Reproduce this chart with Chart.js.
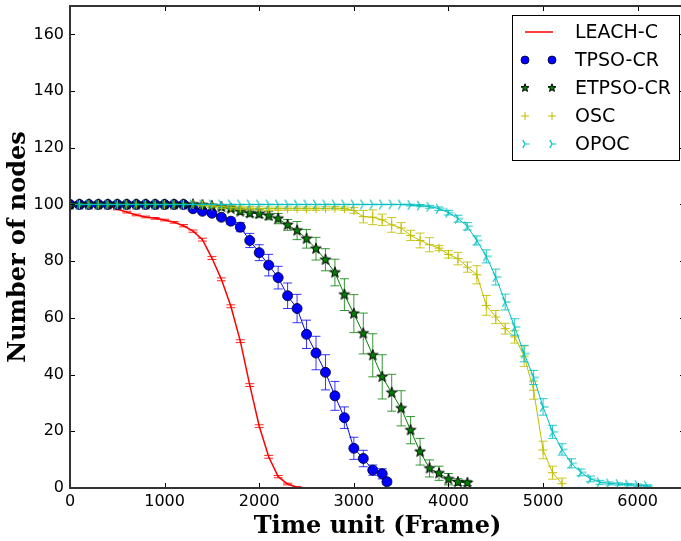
<!DOCTYPE html>
<html><head><meta charset="utf-8">
<script src="https://cdn.jsdelivr.net/npm/chart.js@4.4.1/dist/chart.umd.min.js"></script>
<style>
html,body{margin:0;padding:0;overflow:hidden;background:#fff;width:681px;height:541px}
#wrap{position:relative;width:691px;height:541px}
</style>
</head><body><div id="wrap"><canvas id="c" width="691" height="541"></canvas></div>
<script>
// ---------- data ----------
const frames = [0,100,200,300,400,500,600,700,800,900,1000,1100,1200,1300,1400,1500,1600,1700,1800,1900,2000,2100,2200,2300,2400,2500,2600,2700,2800,2900,3000,3100,3200,3300,3400,3500,3600,3700,3800,3900,4000,4100,4200,4300,4400,4500,4600,4700,4800,4900,5000,5100,5200,5300,5400,5500,5600,5700,5800,5900,6000,6100];
const tpsoFrames = [0,100,200,300,400,500,600,700,800,900,1000,1100,1200,1300,1400,1500,1600,1700,1800,1900,2000,2100,2200,2300,2400,2500,2600,2700,2800,2900,3000,3100,3200,3300,3350];

const leachValues = [100,100,100,100,99.6,98.4,97.3,96.3,95.6,95.1,94.5,93.7,92.5,90.6,87.6,81.1,73.6,64.1,51.8,36.3,21.8,11.0,4.0,1.4,0.3,0];
const leachErrors = [0,0,0,0,0,0.3,0.3,0.3,0.3,0.3,0.3,0.3,0.4,0.4,0.5,0.5,0.5,0.5,0.5,0.5,0.5,0.5,0.4,0.3,0.2,0];

const tpsoValues = [100,100,100,100,100,100,100,100,100,100,100,100,100,98.5,97.6,96.9,95.5,94.1,92.0,87.3,83.0,78.6,74.2,67.8,63.3,54.2,47.6,40.8,32.5,24.8,14.0,10.4,6.3,5.0,2.2];
const tpsoErrors = [0,0,0,0,0,0,0,0,0,0,0,0,0,0.3,0.5,0.6,0.9,1.2,1.6,2.5,2.8,3.8,4.0,4.5,5.0,5.0,5.9,6.2,5.1,3.8,3.9,2.9,1.8,1.8,1.0];

const etpsoValues = [100,100,100,100,100,100,100,100,100,100,100,100,100,100,99.8,99.5,99.1,98.5,97.5,96.9,96.7,96.1,95.0,92.8,90.8,87.9,84.4,80.5,76.0,68.2,61.5,54.5,46.8,39.2,33.6,28.1,20.4,12.8,6.9,5.2,3.1,2.1,1.8];
const etpsoErrors = [0,0,0,0,0,0,0,0,0,0,0,0,0,0,0.3,0.5,0.7,0.9,1.0,1.2,1.4,1.5,1.8,1.9,3.2,3.3,4.0,3.9,4.7,5.6,6.7,7.2,7.6,7.8,6.5,6.2,4.8,4.7,3.0,2.5,2.0,1.2,0.9];

const oscValues = [100,100,100,100,100,100,100,100,100,100,100,100,100,100,99.8,99.5,99.2,99.0,98.8,98.7,98.6,98.5,98.5,98.5,98.5,98.5,98.5,98.6,98.7,98.5,97.9,95.7,95.5,94.6,92.8,91.7,89.1,87.3,85.8,84.6,82.4,80.9,77.9,75.2,64.4,60.3,56.2,53.3,46.5,34.5,13.4,5.4,1.5];
const oscErrors = [0,0,0,0,0,0,0,0,0,0,0,0,0,0,0.3,0.4,0.6,0.6,0.6,0.6,0.6,0.6,0.6,0.6,0.6,0.6,0.6,0.6,0.6,0.6,1.0,2.2,2.6,2.0,2.6,1.9,1.8,2.6,2.5,0.9,1.3,2.2,1.8,3.2,3.5,2.3,1.9,2.2,3.6,3.2,3.1,2.3,2.0];

const opocValues = [100,100,100,100,100,100,100,100,100,100,100,100,100,100,100,100,100,100,100,100,100,100,100,100,100,100,100,100,100,100,100,100,100,100,100,100,99.8,99.6,99.2,98.5,97.1,95.0,92.3,87.3,81.7,74.4,65.6,56.8,47.4,39.0,28.6,19.8,13.6,8.7,5.5,3.2,2.0,1.6,1.4,1.2,1.0,0.8];
const opocErrors = [0,0,0,0,0,0,0,0,0,0,0,0,0,0,0,0,0,0,0,0,0,0,0,0,0,0,0,0,0,0,0,0,0,0,0,0,0.3,0.4,0.5,0.6,0.8,1.2,1.3,1.6,2.3,2.8,2.8,2.9,2.9,2.5,2.9,2.3,2.0,1.6,1.2,1.0,0.7,0.5,0.4,0.4,0.4,0.3];

const seriesNames = ['LEACH-C','TPSO-CR','ETPSO-CR','OSC','OPOC'];
const xTicks = [0,1000,2000,3000,4000,5000,6000];
const yTicks = [0,20,40,60,80,100,120,140,160];
const xTitle = 'Time unit (Frame)';
const yTitle = 'Number of nodes';

// ---------- marker images ----------
function makeStar(size, outer, inner, fill, stroke) {
  const c = document.createElement('canvas'); c.width = c.height = size;
  const g = c.getContext('2d'); const cx = size/2, cy = size/2;
  g.beginPath();
  for (let i = 0; i < 10; i++) {
    const r = i % 2 ? inner : outer;
    const a = -Math.PI/2 + i*Math.PI/5;
    const x = cx + r*Math.cos(a), y = cy + r*Math.sin(a);
    if (i) g.lineTo(x, y); else g.moveTo(x, y);
  }
  g.closePath(); g.fillStyle = fill; g.fill();
  g.lineWidth = 1; g.strokeStyle = stroke; g.stroke();
  return c;
}
function makeTri(size, r, color) {
  const c = document.createElement('canvas'); c.width = c.height = size;
  const g = c.getContext('2d'); const cx = size/2, cy = size/2;
  g.strokeStyle = color; g.lineWidth = 1.2;
  g.beginPath();
  g.moveTo(cx, cy); g.lineTo(cx + r, cy);
  g.moveTo(cx, cy); g.lineTo(cx - r*0.5, cy - r*0.866);
  g.moveTo(cx, cy); g.lineTo(cx - r*0.5, cy + r*0.866);
  g.stroke();
  return c;
}
const starImg = makeStar(14, 5.6, 2.3, '#008000', '#000');
const starLegend = makeStar(12, 4.2, 1.8, '#008000', '#000');
const triImg = makeTri(14, 5.5, '#00bfbf');
const triLegend = makeTri(12, 4.5, '#00bfbf');

function pts(xs, ys) { return ys.map((v, i) => ({x: xs[i], y: v})); }

// ---------- plugins ----------
const errorBars = {
  id: 'errorBars',
  beforeDatasetDraw(chart, args) {
    const ds = chart.data.datasets[args.index];
    if (!ds.errors) return;
    const ctx = chart.ctx, xs = chart.scales.x, ys = chart.scales.y, a = chart.chartArea;
    ctx.save();
    ctx.beginPath(); ctx.rect(a.left, a.top, a.right - a.left, a.bottom - a.top); ctx.clip();
    ctx.strokeStyle = ds.errColor; ctx.lineWidth = 1;
    ds.data.forEach((p, i) => {
      const e = ds.errors[i];
      const px = xs.getPixelForValue(p.x);
      const y1 = ys.getPixelForValue(p.y + e), y2 = ys.getPixelForValue(p.y - e);
      ctx.beginPath();
      ctx.moveTo(px, y1); ctx.lineTo(px, y2);
      ctx.moveTo(px - 4.5, y1); ctx.lineTo(px + 4.5, y1);
      ctx.moveTo(px - 4.5, y2); ctx.lineTo(px + 4.5, y2);
      ctx.stroke();
    });
    ctx.restore();
  }
};

const frame = {
  id: 'frame',
  afterDatasetsDraw(chart) {
    const ctx = chart.ctx, xs = chart.scales.x, ys = chart.scales.y, a = chart.chartArea;
    ctx.save();
    ctx.strokeStyle = '#000'; ctx.lineWidth = 1;
    ctx.beginPath();
    xTicks.forEach(v => {
      const px = Math.round(xs.getPixelForValue(v)) + 0.5;
      ctx.moveTo(px, a.bottom); ctx.lineTo(px, a.bottom - 5);
      ctx.moveTo(px, a.top); ctx.lineTo(px, a.top + 5);
    });
    yTicks.forEach(v => {
      const py = Math.round(ys.getPixelForValue(v)) + 0.5;
      ctx.moveTo(a.left, py); ctx.lineTo(a.left + 5, py);
      ctx.moveTo(a.right, py); ctx.lineTo(a.right - 5, py);
    });
    ctx.stroke();
    ctx.strokeStyle = '#333'; ctx.lineWidth = 2;
    ctx.strokeRect(a.left, a.top, a.right - a.left, a.bottom - a.top);
    ctx.restore();
  }
};

const legendBox = {
  id: 'legendBox',
  afterDraw(chart) {
    const ctx = chart.ctx;
    ctx.save();
    ctx.fillStyle = '#fff'; ctx.strokeStyle = '#000'; ctx.lineWidth = 1;
    ctx.fillRect(512.5, 15.5, 167, 145);
    ctx.strokeRect(512.5, 15.5, 167, 145);
    const rows = [32, 60, 88, 116, 144];
    const mx = [525, 552];
    ctx.font = '19px "DejaVu Sans"'; ctx.textBaseline = 'middle'; ctx.textAlign = 'left';
    seriesNames.forEach((name, i) => {
      const y = rows[i];
      if (i === 0) {
        ctx.strokeStyle = '#ff0000'; ctx.lineWidth = 1.5;
        ctx.beginPath(); ctx.moveTo(525, y); ctx.lineTo(553, y); ctx.stroke();
      } else {
        mx.forEach(x => {
          if (i === 1) {
            ctx.beginPath(); ctx.arc(x, y, 4, 0, Math.PI*2);
            ctx.fillStyle = '#0000ff'; ctx.fill();
            ctx.strokeStyle = '#000030'; ctx.lineWidth = 0.8; ctx.stroke();
          } else if (i === 2) {
            ctx.drawImage(starLegend, x - 6, y - 6);
          } else if (i === 3) {
            ctx.strokeStyle = '#bfbf00'; ctx.lineWidth = 1;
            ctx.beginPath(); ctx.moveTo(x - 4, y); ctx.lineTo(x + 4, y);
            ctx.moveTo(x, y - 4); ctx.lineTo(x, y + 4); ctx.stroke();
          } else {
            ctx.drawImage(triLegend, x - 6, y - 6);
          }
        });
      }
      ctx.fillStyle = '#000';
      ctx.fillText(name, 575, y + 1);
    });
    ctx.restore();
  }
};

// ---------- chart ----------
const tickFont = {family: 'DejaVu Sans', size: 16};
new Chart(document.getElementById('c'), {
  type: 'line',
  data: {
    datasets: [
      {label: seriesNames[0], data: pts(frames, leachValues), errors: leachErrors, errColor: 'rgba(255,0,0,0.85)',
       borderColor: '#ff0000', borderWidth: 1.5, pointRadius: 0, order: 5},
      {label: seriesNames[1], data: pts(tpsoFrames, tpsoValues), errors: tpsoErrors, errColor: 'rgba(0,0,255,0.8)',
       borderColor: '#0000ff', borderWidth: 1, pointStyle: 'circle', pointRadius: 5,
       pointBackgroundColor: '#0000ff', pointBorderColor: 'rgba(0,0,40,0.85)', pointBorderWidth: 1, order: 4},
      {label: seriesNames[2], data: pts(frames, etpsoValues), errors: etpsoErrors, errColor: 'rgba(0,128,0,0.8)',
       borderColor: '#008000', borderWidth: 1, pointStyle: starImg, pointRadius: 5, order: 3},
      {label: seriesNames[3], data: pts(frames, oscValues), errors: oscErrors, errColor: 'rgba(191,191,0,0.85)',
       borderColor: '#bfbf00', borderWidth: 1, pointStyle: 'cross', pointRadius: 4.5,
       pointBorderColor: '#bfbf00', pointBorderWidth: 1, order: 2},
      {label: seriesNames[4], data: pts(frames, opocValues), errors: opocErrors, errColor: 'rgba(0,191,191,0.85)',
       borderColor: '#00bfbf', borderWidth: 1, pointStyle: triImg, pointRadius: 5, order: 1}
    ]
  },
  options: {
    responsive: false, animation: false, devicePixelRatio: 1,
    layout: {padding: {top: 5, right: 1, bottom: 0, left: 0}},
    plugins: {legend: {display: false}, tooltip: {enabled: false}},
    elements: {line: {tension: 0, fill: false}},
    scales: {
      x: {
        type: 'linear', min: 0, max: 6500,
        afterBuildTicks: s => { s.ticks = xTicks.map(v => ({value: v})); },
        afterFit: s => { s.height = 53; s.paddingLeft = 0; s.paddingRight = 0; },
        grid: {display: false, drawTicks: false},
        border: {display: false},
        ticks: {font: tickFont, color: '#000', padding: 4, maxRotation: 0, callback: v => String(v)},
        title: {display: true, text: xTitle, color: '#000',
                font: {family: 'DejaVu Serif', weight: 'bold', size: 24}, padding: {top: 1, bottom: 0}}
      },
      y: {
        type: 'linear', min: 0, max: 170,
        afterBuildTicks: s => { s.ticks = yTicks.map(v => ({value: v})); },
        afterFit: s => { s.width = 70; s.paddingTop = 0; s.paddingBottom = 0; },
        grid: {display: false, drawTicks: false},
        border: {display: false},
        ticks: {font: tickFont, color: '#000', padding: 6, callback: v => String(v)},
        title: {display: true, text: yTitle, color: '#000',
                font: {family: 'DejaVu Serif', weight: 'bold', size: 24}, padding: {top: 4, bottom: 0}}
      }
    }
  },
  plugins: [errorBars, frame, legendBox]
});
</script>
</body></html>
